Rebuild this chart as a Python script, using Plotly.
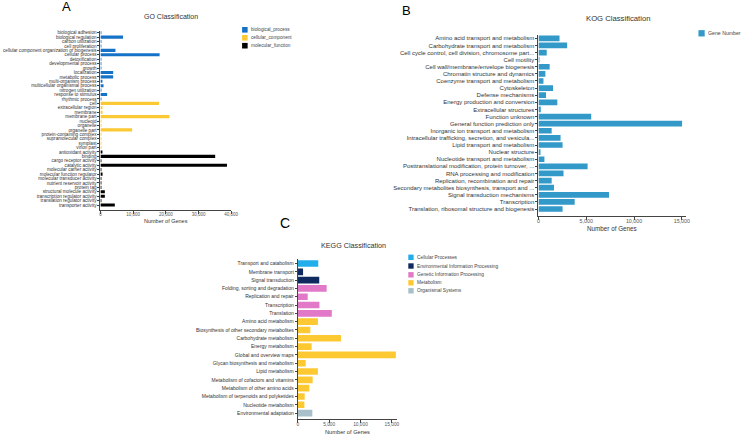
import plotly.graph_objects as go

W, H = 748, 436
FONT = "Liberation Sans, Arial, sans-serif"

# ---------------- GO data ----------------
go_bp_terms = ["biological adhesion", "biological regulation", "carbon utilization", "cell proliferation",
               "cellular component organization or biogenesis", "cellular process", "detoxification",
               "developmental process", "growth", "localization", "metabolic process", "multi-organism process",
               "multicellular organismal process", "nitrogen utilization", "response to stimulus", "rhythmic process"]
go_bp_values = [10, 6900, 5, 5, 4600, 18100, 30, 60, 40, 3900, 3900, 550, 950, 5, 2050, 10]

go_cc_terms = ["cell", "extracellular region", "membrane", "membrane part", "nucleoid", "organelle",
               "organelle part", "protein-containing complex", "supramolecular complex", "symplast", "virion part"]
go_cc_values = [17900, 550, 650, 21100, 5, 20, 9700, 250, 30, 80, 100]

go_mf_terms = ["antioxidant activity", "binding", "cargo receptor activity", "catalytic activity",
               "molecular carrier activity", "molecular function regulator", "molecular transducer activity",
               "nutrient reservoir activity", "protein tag", "structural molecule activity",
               "transcription regulator activity", "translation regulator activity", "transporter activity"]
go_mf_values = [350, 35100, 10, 38700, 10, 650, 20, 5, 5, 1350, 1350, 20, 4400]

go_groups = ["biological_process", "cellular_component", "molecular_function"]
go_colors = ["#1672c6", "#fbc934", "#000000"]

# ---------------- KOG data ----------------
kog_terms = ["Amino acid transport and metabolism", "Carbohydrate transport and metabolism",
             "Cell cycle control, cell division, chromosome part...", "Cell motility",
             "Cell wall/membrane/envelope biogenesis", "Chromatin structure and dynamics",
             "Coenzyme transport and metabolism", "Cytoskeleton", "Defense mechanisms",
             "Energy production and conversion", "Extracellular structures", "Function unknown",
             "General function prediction only", "Inorganic ion transport and metabolism",
             "Intracellular trafficking, secretion, and vesicula...", "Lipid transport and metabolism",
             "Nuclear structure", "Nucleotide transport and metabolism",
             "Posttranslational modification, protein turnover, ...", "RNA processing and modification",
             "Replication, recombination and repair", "Secondary metabolites biosynthesis, transport and ...",
             "Signal transduction mechanisms", "Transcription", "Translation, ribosomal structure and biogenesis"]
kog_values = [2200, 3000, 860, 20, 1170, 720, 520, 1520, 790, 1970, 240, 5520, 15030, 1380, 2310, 2520,
              200, 620, 5140, 2620, 1380, 1620, 7380, 3790, 2520]
kog_series = "Gene Number"
kog_color = "#3399c8"

# ---------------- KEGG data ----------------
kegg_groups = ["Cellular Processes", "Environmental Information Processing", "Genetic Information Processing",
               "Metabolism", "Organismal Systems"]
kegg_colors = ["#22aeea", "#0f2a5e", "#e278c8", "#fdc933", "#a9bfc9"]
kegg_terms = [
    ["Transport and catabolism"],
    ["Membrane transport", "Signal transduction"],
    ["Folding, sorting and degradation", "Replication and repair", "Transcription", "Translation"],
    ["Amino acid metabolism", "Biosynthesis of other secondary metabolites", "Carbohydrate metabolism",
     "Energy metabolism", "Global and overview maps", "Glycan biosynthesis and metabolism", "Lipid metabolism",
     "Metabolism of cofactors and vitamins", "Metabolism of other amino acids",
     "Metabolism of terpenoids and polyketides", "Nucleotide metabolism"],
    ["Environmental adaptation"],
]
kegg_values = [
    [3260],
    [840, 3420],
    [4600, 1580, 3450, 5420],
    [3210, 2000, 6890, 2210, 15630, 1260, 3210, 2370, 1840, 1100, 1050],
    [2320],
]


def fx(p):
    return p / W


def fy(p):
    return 1 - p / H


fig = go.Figure()

# GO traces
go_all = go_bp_terms + go_cc_terms + go_mf_terms
for name, terms, vals, col in zip(go_groups, [go_bp_terms, go_cc_terms, go_mf_terms],
                                  [go_bp_values, go_cc_values, go_mf_values], go_colors):
    fig.add_trace(go.Bar(x=vals, y=terms, orientation="h", marker_color=col, marker_line_width=0,
                         width=0.7, name=name, xaxis="x", yaxis="y", showlegend=False))

# KOG trace
fig.add_trace(go.Bar(x=kog_values, y=kog_terms, orientation="h", marker_color=kog_color, marker_line_width=0,
                     width=0.8, name=kog_series, xaxis="x2", yaxis="y2", showlegend=False))

# KEGG traces
kegg_all = [t for grp in kegg_terms for t in grp]
for name, terms, vals, col in zip(kegg_groups, kegg_terms, kegg_values, kegg_colors):
    fig.add_trace(go.Bar(x=vals, y=terms, orientation="h", marker_color=col, marker_line_width=0,
                         width=0.8, name=name, xaxis="x3", yaxis="y3", showlegend=False))

axis_common = dict(showgrid=False, zeroline=False, showline=True, linecolor="#444", linewidth=1,
                   ticks="outside", tickcolor="#444", tickwidth=1, fixedrange=True)

fig.update_layout(
    width=W, height=H, margin=dict(l=0, r=0, t=0, b=0),
    paper_bgcolor="white", plot_bgcolor="white", barmode="overlay",
    font=dict(family=FONT, color="#333"),
    xaxis=dict(domain=[fx(100.5), fx(232.7)], range=[0, 40000], dtick=10000, tick0=0, tickformat=",d",
               anchor="y", ticklen=3, ticklabelstandoff=-3, tickfont=dict(size=4.5, color="#555"), **axis_common),
    yaxis=dict(domain=[fy(210), fy(30.5)], anchor="x", type="category", categoryorder="array",
               categoryarray=go_all, tickmode="array", tickvals=go_all, ticktext=go_all,
               range=[len(go_all) - 0.5 + 0.63, -0.5], ticklen=2,
               tickfont=dict(size=4.6, color="#333"), **axis_common),
    xaxis2=dict(domain=[fx(543.3), fx(692)], range=[0, 15400], dtick=5000, tick0=0, tickformat=",d",
                anchor="y2", ticklen=3, ticklabelstandoff=-3, tickfont=dict(size=5.3, color="#555"), **axis_common),
    yaxis2=dict(domain=[fy(215.7), fy(34.75)], anchor="x2", type="category", categoryorder="array",
                categoryarray=kog_terms, tickmode="array", tickvals=kog_terms, ticktext=kog_terms,
                range=[len(kog_terms) - 0.5 + 0.44, -0.5], ticklen=2,
                tickfont=dict(size=6.0, color="#333"), **axis_common),
    xaxis3=dict(domain=[fx(300), fx(400)], range=[0, 15770], dtick=5000, tick0=0, tickformat=",d",
                anchor="y3", ticklen=3, ticklabelstandoff=-3, tickfont=dict(size=4.8, color="#555"), **axis_common),
    yaxis3=dict(domain=[fy(419.3), fy(259.35)], anchor="x3", type="category", categoryorder="array",
                categoryarray=kegg_all, tickmode="array", tickvals=kegg_all, ticktext=kegg_all,
                range=[len(kegg_all) - 0.5 + 0.25, -0.5], ticklen=2,
                tickfont=dict(size=5, color="#333"), **axis_common),
)

ann = []
shapes = []


def text(x, y, s, size, anchor="center", color="#333"):
    ann.append(dict(x=fx(x), y=fy(y), xref="paper", yref="paper", text=s, showarrow=False,
                    xanchor=anchor, yanchor="middle", font=dict(size=size, color=color, family=FONT)))


# panel letters
text(66, 6.5, "A", 13, color="#000")
text(409.7, 10.5, "B", 13, color="#000")
text(286.7, 222.8, "C", 14, color="#000")

# titles
text(172, 16.7, "GO Classification", 7)
text(624, 18.3, "KOG Classification", 7.7)
text(356.3, 245, "KEGG Classification", 7.2)

# axis titles
text(166.6, 220.7, "Number of Genes", 5.5)
text(617.7, 228.3, "Number of Genes", 6.3)
text(350, 431.7, "Number of Genes", 5.7)


def legend(items, colors, x0, ys, size, fsize):
    for name, col, yc in zip(items, colors, ys):
        shapes.append(dict(type="rect", xref="paper", yref="paper", x0=fx(x0), x1=fx(x0 + size),
                           y0=fy(yc + size / 2), y1=fy(yc - size / 2), fillcolor=col, line=dict(width=0)))
        text(x0 + size + 1.8, yc, name, fsize, anchor="left", color="#444")


legend(go_groups, go_colors, 243.7, [29.8, 37.8, 45.7], 5.6, 4.7)
legend([kog_series], [kog_color], 705, [33.3], 6.3, 5.2)
legend(kegg_groups, kegg_colors, 411.7, [257.3, 266.0, 274.8, 282.8, 290.8], 5.4, 4.8)

fig.update_layout(annotations=ann, shapes=shapes)
fig.write_html("out.html", config={"displayModeBar": False},
               post_script="document.body.style.margin='0';document.body.style.overflow='hidden';")
